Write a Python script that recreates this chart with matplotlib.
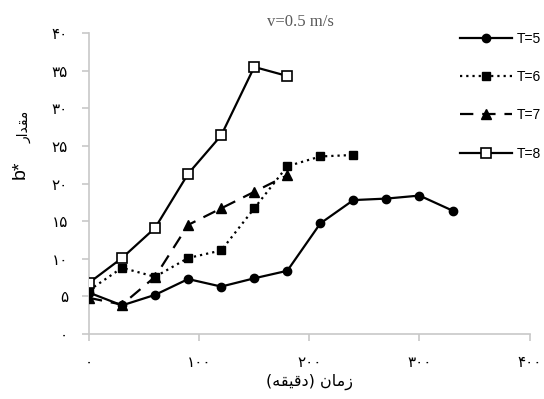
import matplotlib
matplotlib.use("Agg")
import matplotlib.pyplot as plt

# Data
x5 = [0, 30, 60, 90, 120, 150, 180, 210, 240, 270, 300, 330]
y5 = [5.5, 3.8, 5.2, 7.3, 6.3, 7.4, 8.4, 14.7, 17.8, 18.0, 18.4, 16.4]
x6 = [0, 30, 60, 90, 120, 150, 180, 210, 240]
y6 = [5.8, 8.8, 7.6, 10.1, 11.1, 16.7, 22.3, 23.6, 23.8]
x7 = [0, 30, 60, 90, 120, 150, 180]
y7 = [4.8, 3.9, 7.6, 14.5, 16.7, 18.9, 21.1]
x8 = [0, 30, 60, 90, 120, 150, 180]
y8 = [6.8, 10.1, 14.1, 21.3, 26.4, 35.5, 34.3]
labels = ["T=5", "T=6", "T=7", "T=8"]

fa = str.maketrans("0123456789", "\u06f0\u06f1\u06f2\u06f3\u06f4\u06f5\u06f6\u06f7\u06f8\u06f9")
yticks = [0, 5, 10, 15, 20, 25, 30, 35, 40]
xticks = [0, 100, 200, 300, 400]

fig = plt.figure(figsize=(5.44, 3.99), dpi=100)
ax = fig.add_axes([0.1636, 0.163, 0.81, 0.754])

lw = 1.6
ax.plot(x5, y5, color="black", lw=lw, marker="o", ms=6, mfc="black", mec="black", label=labels[0], zorder=3)
ax.plot(x6, y6, color="black", lw=lw, ls=(0, (1, 1.8)), marker="s", ms=6, mfc="black", mec="black", label=labels[1], zorder=4)
ax.plot(x7, y7, color="black", lw=lw, ls=(0, (6, 4)), marker="^", ms=7.5, mfc="black", mec="black", label=labels[2], zorder=5)
ax.plot(x8, y8, color="black", lw=lw, marker="s", ms=7, mfc="white", mec="black", mew=1.2, label=labels[3], zorder=6)

ax.set_xlim(0, 400)
ax.set_ylim(0, 40)
ax.set_xticks(xticks)
ax.set_yticks(yticks)
ax.set_xticklabels([str(v).translate(fa) for v in xticks], fontsize=11, family="DejaVu Sans")
ax.set_yticklabels([str(v).translate(fa) for v in yticks], fontsize=11, family="DejaVu Sans")
for s in ["top", "right"]:
    ax.spines[s].set_visible(False)
for s in ["left", "bottom"]:
    ax.spines[s].set_color("#c8c8c8")
    ax.spines[s].set_linewidth(1.2)
ax.tick_params(axis="both", colors="#c8c8c8", labelcolor="black", length=5, width=1.2)
ax.tick_params(axis="y", pad=10)
ax.tick_params(axis="x", pad=10)

# x label: "زمان (دقیقه)" shaped, visual order
xlabel = "(" + "\ufeea\ufed8\ufef4\ufed7\ufea9" + ")" + " " + "\ufee5\ufe8e\ufee3\ufeaf"
ax.set_xlabel(xlabel, fontsize=11.5, family="DejaVu Sans", labelpad=3)

# y label: "b*" + "مقدار"
ax.text(-0.156, 0.545, "b*", transform=ax.transAxes, rotation=90, fontsize=14,
        family="Liberation Sans", ha="center", va="center")
ax.text(-0.146, 0.69, "\ufead\ufe8d\ufeaa\ufed8\ufee3", transform=ax.transAxes, rotation=90,
        fontsize=10, family="DejaVu Sans", ha="center", va="center")

fig.text(0.552, 0.945, "v=0.5 m/s", fontsize=12, family="Liberation Serif", color="#595959",
         ha="center", va="center")

leg = fig.legend(loc="upper left", bbox_to_anchor=(0.822, 0.952), frameon=False,
                 handlelength=3.8, handletextpad=0.3, labelspacing=1.75,
                 prop={"family": "Liberation Sans", "size": 10})

fig.savefig("out.png", dpi=100)
